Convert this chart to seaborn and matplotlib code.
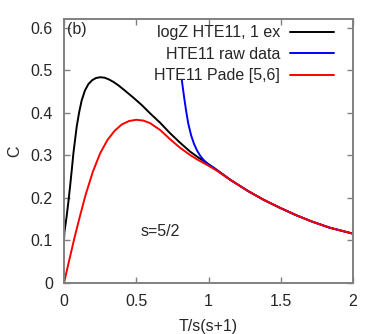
import numpy as np
import pandas as pd
import matplotlib
matplotlib.use("Agg")
import matplotlib.pyplot as plt
import seaborn as sns

# curves
x_logz = [0.0, 0.003, 0.018, 0.03, 0.042, 0.055, 0.065, 0.077, 0.088, 0.105, 0.122, 0.145,
          0.169, 0.195, 0.22, 0.25, 0.28, 0.31, 0.342, 0.38, 0.42, 0.48, 0.54, 0.596,
          0.665, 0.735, 0.80, 0.873, 0.93, 0.989, 1.05, 1.15, 1.27, 1.38, 1.5, 1.61,
          1.72, 1.84, 2.0]
c_logz = [0.10, 0.12, 0.156, 0.19, 0.227, 0.27, 0.305, 0.338, 0.368, 0.402, 0.429, 0.453,
          0.468, 0.477, 0.482, 0.484, 0.483, 0.479, 0.473, 0.464, 0.453, 0.436, 0.418, 0.399,
          0.377, 0.352, 0.331, 0.309, 0.295, 0.282, 0.268, 0.243, 0.217, 0.196, 0.176, 0.159,
          0.144, 0.13, 0.116]

x_raw = [0.815, 0.83, 0.845, 0.86, 0.88, 0.9, 0.92, 0.945, 0.97, 1.0,
         1.05, 1.15, 1.27, 1.38, 1.5, 1.61, 1.72, 1.84, 2.0]
c_raw = [0.478, 0.44, 0.405, 0.375, 0.347, 0.327, 0.312, 0.298, 0.288, 0.279,
         0.267, 0.243, 0.217, 0.196, 0.176, 0.159, 0.144, 0.13, 0.116]

x_pade = [0.0, 0.02, 0.042, 0.075, 0.111, 0.15, 0.2, 0.25, 0.3, 0.35, 0.4, 0.45, 0.5,
          0.55, 0.596, 0.665, 0.735, 0.80, 0.873, 0.93, 0.989, 1.05, 1.15, 1.27, 1.38,
          1.5, 1.61, 1.72, 1.84, 2.0]
c_pade = [0.0, 0.03, 0.062, 0.11, 0.158, 0.208, 0.262, 0.305, 0.336, 0.358, 0.373, 0.381,
          0.384, 0.382, 0.376, 0.36, 0.338, 0.319, 0.301, 0.289, 0.278, 0.266, 0.243, 0.217,
          0.196, 0.176, 0.159, 0.144, 0.13, 0.116]

x_ticks = [0, 0.5, 1, 1.5, 2]
x_ticklabels = ["0", "0.5", "1", "1.5", "2"]
y_ticks = [0, 0.1, 0.2, 0.3, 0.4, 0.5, 0.6]
y_ticklabels = ["0", "0.1", "0.2", "0.3", "0.4", "0.5", "0.6"]

sns.set_style("ticks")
plt.rcParams['font.family'] = ['Liberation Sans', 'DejaVu Sans']
plt.rcParams['font.size'] = 11.5

df = pd.concat([
    pd.DataFrame({"x": x_logz, "C": c_logz, "curve": "logZ HTE11, 1 ex"}),
    pd.DataFrame({"x": x_raw, "C": c_raw, "curve": "HTE11 raw data"}),
    pd.DataFrame({"x": x_pade, "C": c_pade, "curve": "HTE11 Pade [5,6]"}),
])
palette = {"logZ HTE11, 1 ex": "black", "HTE11 raw data": "#0000ff", "HTE11 Pade [5,6]": "#ff0000"}

fig = plt.figure(figsize=(3.82, 3.34), dpi=100)
ax = fig.add_axes([64 / 382, 51 / 334, 289 / 382, 264 / 334])
sns.lineplot(data=df, x="x", y="C", hue="curve", palette=palette, sort=False,
             estimator=None, linewidth=1.4, ax=ax)

ax.set_xlim(0, 2)
ax.set_ylim(0, 0.621)
ax.set_xticks(x_ticks)
ax.set_xticklabels(x_ticklabels)
ax.set_yticks(y_ticks)
ax.set_yticklabels(y_ticklabels)
ax.tick_params(direction="in", length=4, width=1, color="#808080",
               top=True, right=True, pad=8)
for sp in ax.spines.values():
    sp.set_color("#808080")
    sp.set_linewidth(1.4)
ax.set_xlabel("T/s(s+1)", labelpad=7)
ax.set_ylabel("C", labelpad=6)

ax.text(0.012, 0.99, "(b)", transform=ax.transAxes, ha="left", va="top")
ax.text(0.665, 0.121, "s=5/2", ha="center", va="center")

leg = ax.legend(loc="upper right", frameon=False, markerfirst=False,
                handlelength=2.7, handletextpad=0.65, labelspacing=0.4,
                borderaxespad=0.0, borderpad=0.4, bbox_to_anchor=(0.955, 1.0))

fig.savefig("out.png", dpi=100)
